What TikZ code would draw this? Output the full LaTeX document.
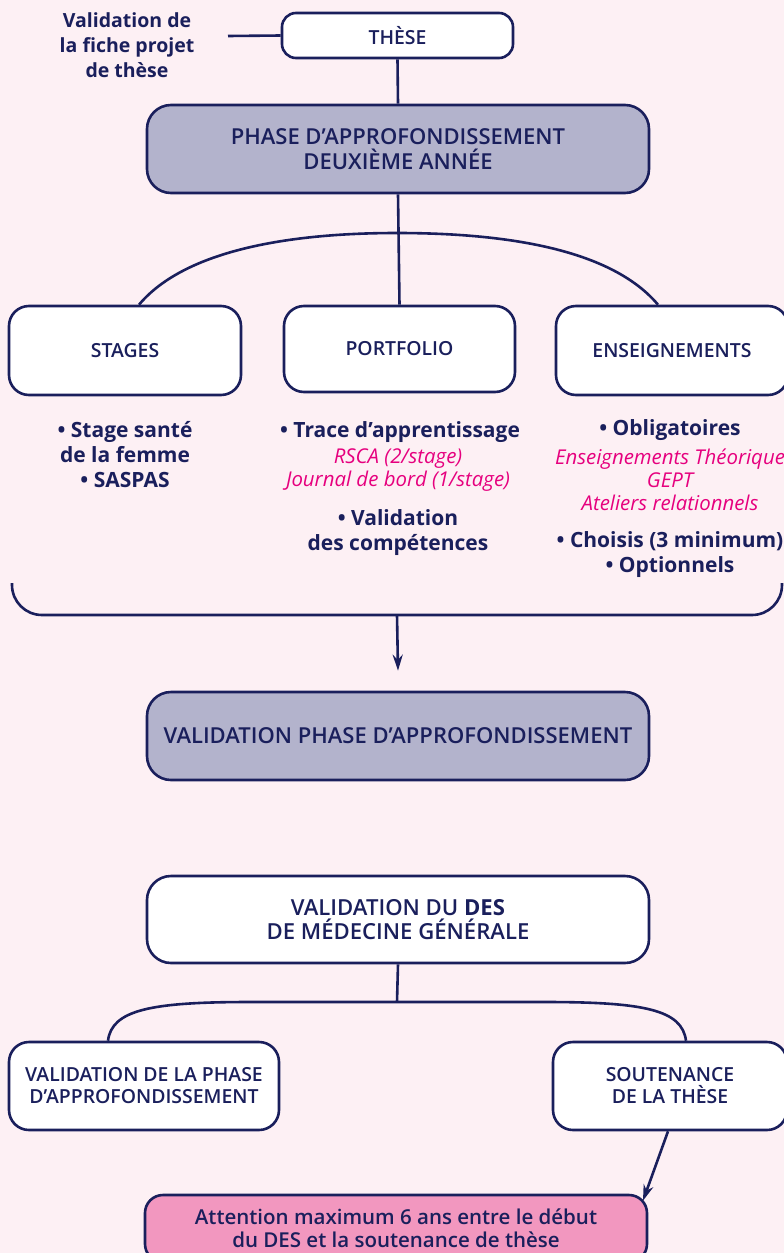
\documentclass[tikz,border=0pt]{standalone}
\usepackage{fontspec}
\setmainfont{Open Sans}
% medium weight for the headings, when the family provides one
\IfFontExistsTF{Open Sans SemiBold}
  {\newfontfamily\semib{Open Sans SemiBold}}
  {\IfFontExistsTF{Open Sans Semibold}
    {\newfontfamily\semib{Open Sans Semibold}}
    {\IfFontExistsTF{OpenSans-SemiBold.ttf}
      {\newfontfamily\semib{OpenSans-SemiBold.ttf}}
      {\newfontfamily\semib{Open Sans}}}}
\usetikzlibrary{arrows.meta}
\definecolor{navy}{HTML}{1A1F5C}
\definecolor{bgpink}{HTML}{FDF0F4}
\definecolor{lav}{HTML}{B3B3CC}
\definecolor{alertpink}{HTML}{F297BF}
\definecolor{magenta}{HTML}{E6007E}
\tikzset{
  box/.style={draw=navy, line width=2.6pt, rounded corners=20pt, fill=white,
    align=center, text=navy, inner sep=0pt,
    font=\semib\fontsize{19.4}{25}\selectfont},
  lavbox/.style={box, fill=lav},
  link/.style={draw=navy, line width=2.6pt},
  arrowlink/.style={link, -{Stealth[length=16pt,width=10pt]}},
  bullets/.style={align=center, text=navy, inner sep=0pt,
    font=\bfseries\fontsize{21}{25}\selectfont},
  notes/.style={align=center, text=magenta, inner sep=0pt,
    font=\itshape\fontsize{20.4}{23}\selectfont},
}
\begin{document}
\begin{tikzpicture}[x=1pt, y=-1pt]
  % page background
  \fill[bgpink] (0,0) rectangle (784,1253);
  \useasboundingbox (0,0) rectangle (784,1253);

  % thesis project note
  \node[bullets, font=\bfseries\fontsize{19.5}{25}\selectfont] (fiche) at (127,45)
    {Validation de\\la fiche projet\\de thèse};
  \coordinate (fichelink) at (228,36);

  % top of the chart
  \node[box, minimum width=231pt, minimum height=45pt, rounded corners=14pt] (these) at (397.5,35.5) {THÈSE};
  \node[lavbox, minimum width=502pt, minimum height=88pt, rounded corners=24pt,
        font=\semib\fontsize{22}{25}\selectfont] (phase) at (398,149)
    {PHASE D’APPROFONDISSEMENT\\DEUXIÈME ANNÉE};

  % three pillars
  \node[box, minimum width=232pt, minimum height=89pt] (stages) at (125,350.5) {STAGES};
  \node[box, minimum width=231pt, minimum height=86pt] (portfolio) at (399.5,349) {PORTFOLIO};
  \node[box, minimum width=232pt, minimum height=89pt] (ens) at (672,350.5) {ENSEIGNEMENTS};

  % pillar contents
  \node[bullets] (stagestxt) at (125,455) {• Stage santé\\de la femme\\• SASPAS};
  \node[bullets] (port1) at (400,432) {• Trace d’apprentissage};
  \node[notes] (port2) at (398,470.5) {RSCA (2/stage)\\Journal de bord (1/stage)};
  \node[bullets] (port3) at (398,533) {• Validation\\des compétences};
  \node[bullets] (ens1) at (670,430) {• Obligatoires};
  \node[notes] (ens2) at (670,480) {Enseignements Théorique\\GEPT\\Ateliers relationnels};
  \node[bullets] (ens3) at (670,554.5) {• Choisis (3 minimum)\\• Optionnels};

  % validation of the phase
  \node[lavbox, minimum width=502pt, minimum height=88pt, rounded corners=24pt,
        font=\semib\fontsize{22}{25}\selectfont] (valphase) at (398,736)
    {VALIDATION PHASE D’APPROFONDISSEMENT};

  % DES validation
  \node[box, minimum width=502pt, minimum height=87pt, rounded corners=24pt,
        font=\semib\fontsize{22.1}{24}\selectfont] (des) at (398,919.5)
    {VALIDATION DU {\normalfont\bfseries DES}\\DE MÉDECINE GÉNÉRALE};
  \node[box, minimum width=270pt, minimum height=88pt, font=\semib\fontsize{19.4}{22}\selectfont] (vleft) at (144,1086)
    {VALIDATION DE LA PHASE\\D’APPROFONDISSEMENT};
  \node[box, minimum width=234pt, minimum height=88pt, font=\semib\fontsize{19.4}{22}\selectfont] (sout) at (670,1086)
    {SOUTENANCE\\DE LA THÈSE};
  \node[box, fill=alertpink, minimum width=502pt, minimum height=67pt, rounded corners=18pt,
        font=\semib\fontsize{20.5}{23}\selectfont] (alert) at (396,1228.5)
    {Attention maximum 6 ans entre le début\\du DES et la soutenance de thèse};

  % connectors
  \draw[link] (fichelink) -- (these.west);
  \draw[link] (these.south) -- (phase.north);
  \draw[link] (phase.south) -- (portfolio.north);
  \coordinate (archtop) at (397,233);
  \draw[link] (stages.north -| 139,0) .. controls (185,250) and (290,233) .. (archtop)
    .. controls (509,233) and (612,250) .. (ens.north -| 658,0);

  % bracket gathering the three pillars
  \coordinate (brkl) at (12,583);
  \coordinate (brkr) at (782,583);
  \coordinate (brkmid) at (397,615);
  \draw[link, rounded corners=30pt] (brkl) -- (12,615) -- (782,615) -- (brkr);
  \draw[arrowlink] (brkmid) -- ([yshift=20pt]valphase.north);

  % DES branches
  \coordinate (fork) at (397,1002);
  \draw[link] (des.south) -- (fork);
  \draw[link] (vleft.north -| 108,0) .. controls (112,1010) and (150,1002) .. (250,1002)
    -- (545,1002) .. controls (645,1002) and (682,1010) .. (sout.north -| 686,0);
  \draw[arrowlink] (sout.south -| 668,0) -- ([xshift=247pt, yshift=-7pt]alert.north);
\end{tikzpicture}
\end{document}
